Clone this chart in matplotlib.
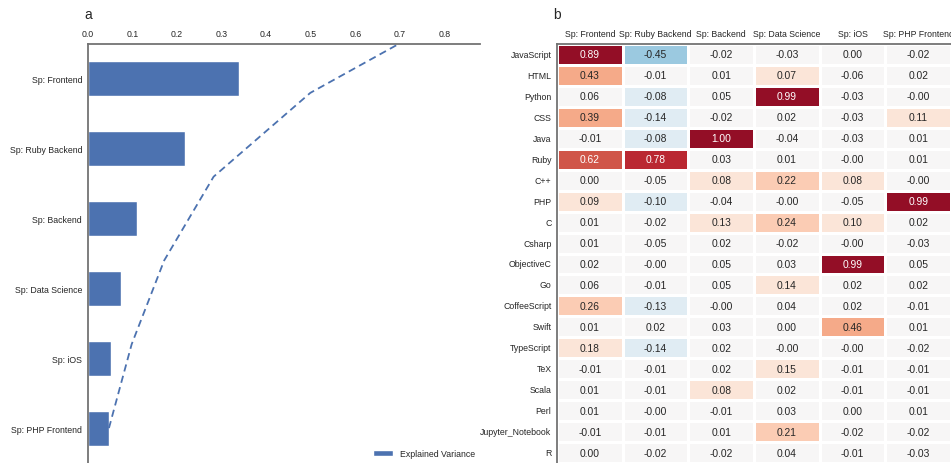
import numpy as np
import matplotlib
matplotlib.use("Agg")
import matplotlib.pyplot as plt
import seaborn as sns

# Explained variance per component
components = ["Sp: Frontend", "Sp: Ruby Backend", "Sp: Backend",
              "Sp: Data Science", "Sp: iOS", "Sp: PHP Frontend"]
explained_variance = [0.340, 0.217, 0.111, 0.073, 0.051, 0.047]

# Loadings of each language on the components
languages = ["JavaScript", "HTML", "Python", "CSS", "Java", "Ruby", "C++", "PHP",
             "C", "Csharp", "ObjectiveC", "Go", "CoffeeScript", "Swift",
             "TypeScript", "TeX", "Scala", "Perl", "Jupyter_Notebook", "R"]
loadings = [
    [0.89, -0.45, -0.02, -0.03, 0.00, -0.02],
    [0.43, -0.01, 0.01, 0.07, -0.06, 0.02],
    [0.06, -0.08, 0.05, 0.99, -0.03, -0.001],
    [0.39, -0.14, -0.02, 0.02, -0.03, 0.11],
    [-0.01, -0.08, 1.00, -0.04, -0.03, 0.01],
    [0.62, 0.78, 0.03, 0.01, -0.001, 0.01],
    [0.00, -0.05, 0.08, 0.22, 0.08, -0.001],
    [0.09, -0.10, -0.04, -0.001, -0.05, 0.99],
    [0.01, -0.02, 0.13, 0.24, 0.10, 0.02],
    [0.01, -0.05, 0.02, -0.02, -0.001, -0.03],
    [0.02, -0.001, 0.05, 0.03, 0.99, 0.05],
    [0.06, -0.01, 0.05, 0.14, 0.02, 0.02],
    [0.26, -0.13, -0.001, 0.04, 0.02, -0.01],
    [0.01, 0.02, 0.03, 0.00, 0.46, 0.01],
    [0.18, -0.14, 0.02, -0.001, -0.001, -0.02],
    [-0.01, -0.01, 0.02, 0.15, -0.01, -0.01],
    [0.01, -0.01, 0.08, 0.02, -0.01, -0.01],
    [0.01, -0.001, -0.01, 0.03, 0.00, 0.01],
    [-0.01, -0.01, 0.01, 0.21, -0.02, -0.02],
    [0.00, -0.02, -0.02, 0.04, -0.01, -0.03],
]

sns.set_style("white")
plt.rcParams["font.family"] = ["Liberation Sans", "DejaVu Sans"]
text_color = "0.15"
spine_color = "0.45"
tick_fs = 6.3

W, H = 951, 464
fig = plt.figure(figsize=(W / 100, H / 100), dpi=100)

# ---- panel a: explained variance ----
ax1 = fig.add_axes([88 / W, 0, (480 - 88) / W, 419 / H])
n = len(components)
pos = np.arange(n)
blue = "#4c72b0"
ax1.barh(pos, explained_variance, height=0.5, color=blue,
         label="Explained Variance")
cum = np.cumsum(explained_variance[::-1])
line_pos = np.linspace(n - 1, -1, n)
ax1.plot(cum, line_pos, ls="--", color=blue, lw=1.3, dashes=(4, 2.5))
ax1.set_ylim(n - 0.5, -0.5)
ax1.set_xlim(0, 0.88)
ax1.set_yticks(pos)
ax1.set_yticklabels(components)
ax1.set_xticks(np.arange(0, 0.81, 0.1))
ax1.set_xticklabels([f"{v:.1f}" for v in np.arange(0, 0.81, 0.1)])
ax1.xaxis.tick_top()
ax1.tick_params(axis="x", length=0, pad=4.5, labelsize=tick_fs, colors=text_color)
ax1.tick_params(axis="y", length=0, pad=4.3, labelsize=tick_fs, colors=text_color)
for s in ["right", "bottom"]:
    ax1.spines[s].set_visible(False)
for s in ["top", "left"]:
    ax1.spines[s].set_color(spine_color)
    ax1.spines[s].set_linewidth(1.3)
leg = ax1.legend(loc="lower right", frameon=False, fontsize=tick_fs,
                 handlelength=2.2, borderaxespad=0.2)
for t in leg.get_texts():
    t.set_color(text_color)

# ---- panel b: loadings heatmap ----
ax2 = fig.add_axes([557 / W, 0, (951 - 557) / W, 419 / H])
cmap = sns.color_palette("RdBu_r", 15)
sns.heatmap(np.array(loadings), ax=ax2, cmap=cmap, vmin=-1, vmax=1,
            annot=True, fmt=".2f", annot_kws={"size": 7.4},
            linewidths=1, linecolor="white", cbar=False,
            xticklabels=components, yticklabels=languages)
ax2.xaxis.tick_top()
ax2.tick_params(axis="x", length=0, pad=4.5, labelsize=tick_fs,
                colors=text_color, rotation=0)
ax2.tick_params(axis="y", length=0, pad=4.0, labelsize=tick_fs,
                colors=text_color, rotation=0)
for s in ["top", "left"]:
    ax2.spines[s].set_visible(True)
    ax2.spines[s].set_color(spine_color)
    ax2.spines[s].set_linewidth(1.3)

fig.text(84 / W, 1 - 15 / H, "a", fontsize=10, color=text_color, va="center")
fig.text(553 / W, 1 - 15 / H, "b", fontsize=10, color=text_color, va="center")

fig.savefig("out.png", dpi=100)
